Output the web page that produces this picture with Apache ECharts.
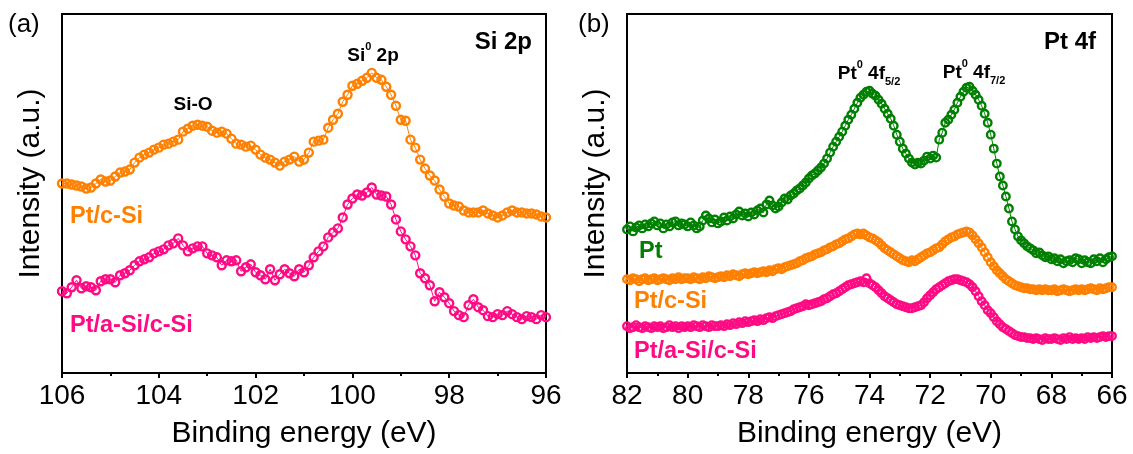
<!DOCTYPE html>
<html>
<head>
<meta charset="utf-8">
<script src="https://cdn.jsdelivr.net/npm/echarts@6/dist/echarts.min.js"></script>
<style>
html,body{margin:0;padding:0;background:#fff;}
#chart{width:1133px;height:454px;}
</style>
</head>
<body>
<div id="chart"></div>
<script>
// ---------- Data ----------
// Panel (a): Si 2p, binding energy 106 -> 96 eV, step 0.1 eV
const siStart = 106.0, siStep = -0.1;
const siPtcSi = [
  201,201,200,199,198,196,197,201,205,203,
  204,208,212,213,215,222,227,230,232,235,
  237,240,241,243,245,253,256,259,260,259,
  258,254,252,253,251,246,241,240,238,239,
  235,230,227,225,222,219,223,225,228,223,
  225,232,243,244,245,257,265,271,283,290,
  299,301,304,307,312,307,305,298,290,279,
  265,264,245,237,225,216,209,204,195,188,
  181,179,178,174,172,172,172,174,171,169,
  167,169,172,174,172,172,171,171,170,168,
  167
];
const siPtaSicSi = [
  93,91,97,104,96,98,97,94,103,105,
  105,102,109,111,114,119,123,125,127,131,
  133,135,139,141,146,139,133,136,138,138,
  131,129,127,119,124,123,124,113,117,120,
  112,109,105,115,104,110,115,111,108,115,
  112,119,127,133,138,147,152,156,167,180,
  186,190,189,192,197,190,189,188,180,165,
  153,145,138,129,111,106,99,83,92,87,
  81,73,69,67,79,85,77,74,68,67,
  70,69,73,70,67,65,68,67,65,69,
  67
];
// Panel (b): Pt 4f, binding energy 82 -> 66 eV, step 0.1 eV
const ptStart = 82.0, ptStep = -0.1;
const ptPt = [
  155,158,153,157,159,156,160,158,161,163,
  159,161,156,160,158,162,163,159,161,160,
  158,162,159,156,158,164,169,166,162,165,
  161,163,167,164,168,166,170,173,169,171,
  168,172,170,174,176,172,180,184,179,176,
  178,182,186,185,189,191,194,196,199,202,
  206,209,211,214,217,221,226,232,238,243,
  248,253,259,265,270,276,282,287,290,293,
  294,291,289,285,281,276,271,266,259,250,
  243,236,231,226,222,220,222,221,224,228,
  226,229,227,245,252,262,265,270,275,282,
  288,293,297,298,294,290,285,279,271,262,
  250,236,221,208,199,188,176,163,155,148,
  144,141,138,136,134,131,132,129,127,128,
  125,126,123,125,121,123,124,122,126,125,
  121,124,122,121,125,123,126,122,125,127,
  128
];
const ptPtcSi = [
  105,104,106,105,103,105,106,104,105,106,
  104,105,106,105,104,106,105,107,105,106,
  106,105,107,106,105,107,106,108,107,106,
  107,108,107,109,108,110,109,108,110,111,
  110,111,112,111,112,113,112,114,113,115,
  116,115,117,118,119,120,121,123,124,126,
  127,128,130,131,132,134,135,137,138,140,
  141,143,145,146,148,150,151,150,151,149,
  147,146,144,142,139,136,134,132,130,128,
  126,124,123,122,124,123,125,127,129,131,
  132,134,136,137,140,143,145,147,148,150,
  151,152,153,152,149,145,141,137,132,127,
  122,118,114,111,108,105,103,101,99,98,
  97,96,96,95,95,94,95,94,95,94,
  94,95,93,94,95,94,93,94,95,94,
  95,94,95,96,95,94,96,95,96,97,
  97
];
const ptPtaSicSi = [
  58,56,57,59,57,56,58,57,56,58,
  57,58,56,57,59,57,58,56,58,57,
  58,57,59,58,57,59,58,57,59,58,
  58,59,58,60,59,61,60,62,61,63,
  62,63,64,63,65,64,66,67,66,68,
  69,70,71,72,73,75,76,77,78,80,
  79,80,81,82,83,85,86,88,90,91,
  93,95,97,99,100,101,102,103,102,106,
  101,99,97,94,91,88,86,84,82,80,
  79,78,77,76,76,77,78,79,82,86,
  89,92,95,97,99,101,103,104,105,105,
  104,103,102,100,97,93,88,83,79,74,
  71,67,63,60,57,55,53,51,49,48,
  47,47,46,46,45,46,45,44,46,45,
  45,46,45,44,46,45,47,45,46,45,
  46,45,47,46,47,46,47,48,47,48,
  48
];
const siTicks = {min: 96, max: 106, interval: 2};
const ptTicks = {min: 66, max: 82, interval: 2};
const intensityRange = {min: 11, max: 371};

// ---------- Build ----------
function pairs(start, step, vals){
  return vals.map((v,i)=>[+(start + step*i).toFixed(2), v]);
}
const ORANGE = '#ff8000', PINK = '#ff0a84', GREEN = '#008000';
const FONT = 'Arial, "Liberation Sans", sans-serif';

function xAx(idx, t){
  return {
    gridIndex: idx, type: 'value', inverse: true,
    min: t.min, max: t.max, interval: t.interval,
    name: 'Binding energy (eV)', nameLocation: 'middle', nameGap: 46,
    nameTextStyle: {fontFamily: FONT, fontSize: 30, color: '#000'},
    axisLine: {show: true, onZero: false, lineStyle: {color: '#000', width: 2}},
    axisTick: {show: true, inside: false, length: 5, lineStyle: {color: '#000', width: 2}},
    minorTick: {show: true, splitNumber: 2, length: 3, lineStyle: {color: '#000', width: 2}},
    axisLabel: {fontFamily: FONT, fontSize: 28, color: '#000', margin: 9},
    splitLine: {show: false}
  };
}
function yAx(idx){
  return {
    gridIndex: idx, type: 'value', min: intensityRange.min, max: intensityRange.max,
    name: 'Intensity (a.u.)', nameLocation: 'middle', nameGap: 16, nameRotate: 90,
    nameTextStyle: {fontFamily: FONT, fontSize: 30, color: '#000', padding: [0, 0, 0, 20]},
    axisLine: {show: true, lineStyle: {color: '#000', width: 2}},
    axisTick: {show: false}, axisLabel: {show: false}, splitLine: {show: false}
  };
}
function ser(xi, data, color, size){
  return {
    type: 'line', xAxisIndex: xi, yAxisIndex: xi, data: data,
    symbol: 'circle', symbolSize: size, showSymbol: true,
    itemStyle: {color: 'rgba(255,255,255,0)', borderColor: color, borderWidth: 2.4},
    lineStyle: {color: color, width: 1},
    clip: true, silent: true
  };
}
function lab(x, y, text, color, size, align, weight){
  return {type: 'text', x: x, y: y, style: {
    text: text, fill: color, font: (weight||'bold') + ' ' + size + 'px ' + FONT,
    textAlign: align || 'left', textVerticalAlign: 'middle'}};
}
function richLab(x, y, text, align){
  return {type: 'text', x: x, y: y, style: {
    text: text, textAlign: align || 'center', textVerticalAlign: 'middle',
    rich: {
      b: {fontFamily: FONT, fontWeight: 'bold', fontSize: 19, color: '#000', lineHeight: 24, verticalAlign: 'bottom'},
      sup: {fontFamily: FONT, fontWeight: 'bold', fontSize: 11, color: '#000', lineHeight: 24, verticalAlign: 'top'},
      sub: {fontFamily: FONT, fontWeight: 'bold', fontSize: 11, color: '#000', lineHeight: 24, verticalAlign: 'bottom', padding: [0,0,-4,0]}
    }}};
}

const chart = echarts.init(document.getElementById('chart'), null, {renderer: 'canvas'});
chart.setOption({
  animation: false,
  backgroundColor: '#fff',
  grid: [
    {left: 62, top: 14, width: 484, height: 360, show: true, borderColor: '#000', borderWidth: 2, backgroundColor: 'transparent'},
    {left: 627, top: 14, width: 485, height: 360, show: true, borderColor: '#000', borderWidth: 2, backgroundColor: 'transparent'}
  ],
  xAxis: [xAx(0, siTicks), xAx(1, ptTicks)],
  yAxis: [yAx(0), yAx(1)],
  series: [
    ser(0, pairs(siStart, siStep, siPtcSi), ORANGE, 8),
    ser(0, pairs(siStart, siStep, siPtaSicSi), PINK, 8),
    ser(1, pairs(ptStart, ptStep, ptPt), GREEN, 7.5),
    ser(1, pairs(ptStart, ptStep, ptPtcSi), ORANGE, 7.5),
    ser(1, pairs(ptStart, ptStep, ptPtaSicSi), PINK, 7.5)
  ],
  graphic: [
    lab(8, 25, '(a)', '#000', 26, 'left', 'normal'),
    lab(532, 42, 'Si 2p', '#000', 24, 'right'),
    lab(193, 105, 'Si-O', '#000', 19, 'center'),
    richLab(373, 53, '{b|Si}{sup|0}{b| 2p}'),
    lab(70, 217, 'Pt/c-Si', ORANGE, 23.5, 'left'),
    lab(70, 326, 'Pt/a-Si/c-Si', PINK, 23.5, 'left'),
    lab(578, 25, '(b)', '#000', 26, 'left', 'normal'),
    lab(1096, 42, 'Pt 4f', '#000', 24, 'right'),
    richLab(869, 71, '{b|Pt}{sup|0}{b| 4f}{sub|5/2}'),
    richLab(974, 70, '{b|Pt}{sup|0}{b| 4f}{sub|7/2}'),
    lab(639, 252, 'Pt', GREEN, 23.5, 'left'),
    lab(634, 302, 'Pt/c-Si', ORANGE, 23.5, 'left'),
    lab(634, 352, 'Pt/a-Si/c-Si', PINK, 23.5, 'left')
  ]
});
</script>
</body>
</html>
